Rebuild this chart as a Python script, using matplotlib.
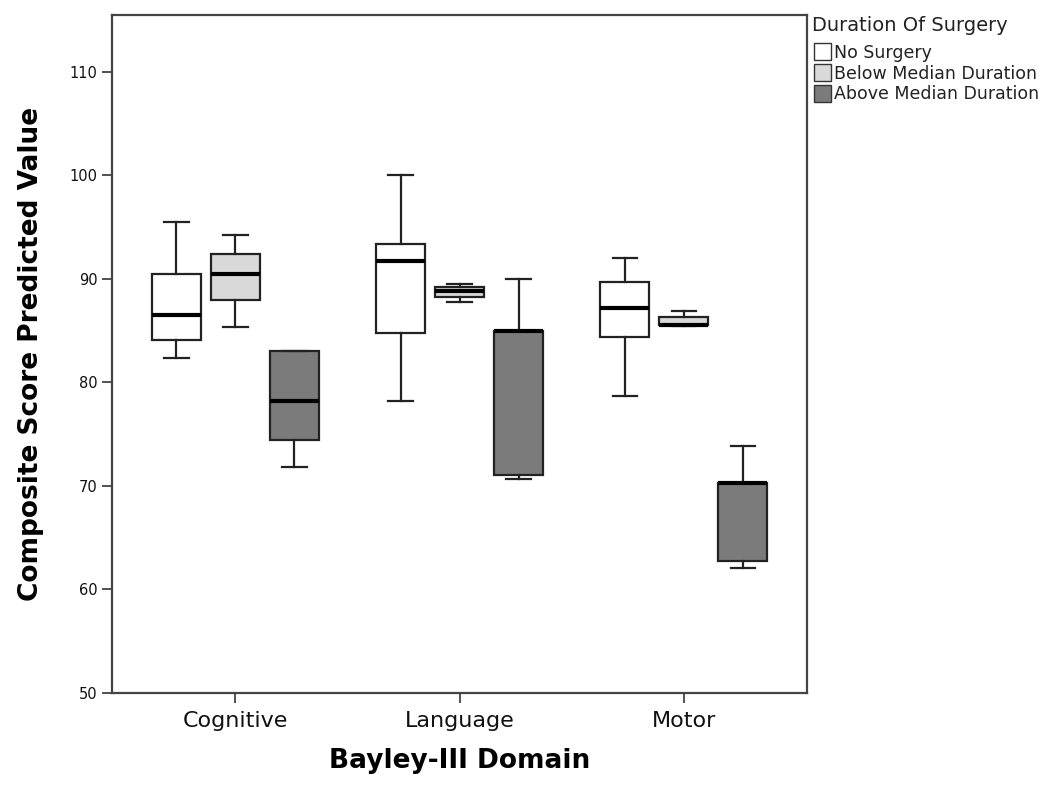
import matplotlib
matplotlib.use('Agg')
import matplotlib.pyplot as plt
from matplotlib.patches import Patch

domains = ['Cognitive', 'Language', 'Motor']
groups = ['No Surgery', 'Below Median Duration', 'Above Median Duration']
colors = ['#ffffff', '#d9d9d9', '#7b7b7b']

# one row per surgery group, one value per domain
whislo = [[82.4, 78.2, 78.7], [85.4, 87.8, 85.5], [71.8, 70.7, 62.1]]
q1 = [[84.1, 84.75, 84.4], [88.0, 88.3, 85.55], [74.4, 71.1, 62.75]]
med = [[86.5, 91.7, 87.2], [90.5, 88.8, 85.6], [78.2, 85.0, 70.25]]
q3 = [[90.5, 93.4, 89.7], [92.4, 89.2, 86.3], [83.0, 85.0, 70.25]]
whishi = [[95.5, 100.0, 92.0], [94.25, 89.5, 86.9], [83.0, 90.0, 73.9]]

yticks = [50, 60, 70, 80, 90, 100, 110]

fig = plt.figure(figsize=(10.5, 7.92), dpi=100)
ax = fig.add_axes([0.1067, 0.125, 0.662, 0.856])

offset = 0.263
for g in range(len(groups)):
  stats = []
  for d in range(len(domains)):
    stats.append(dict(whislo=whislo[g][d], q1=q1[g][d], med=med[g][d],
                      q3=q3[g][d], whishi=whishi[g][d], fliers=[]))
  pos = [d + (g - 1) * offset for d in range(len(domains))]
  ax.bxp(stats, positions=pos, widths=0.218, patch_artist=True,
         showfliers=False, manage_ticks=False,
         boxprops=dict(facecolor=colors[g], edgecolor='#222222', linewidth=1.6),
         medianprops=dict(color='black', linewidth=3),
         whiskerprops=dict(color='#222222', linewidth=1.6),
         capprops=dict(color='#222222', linewidth=1.6))

ax.set_xlim(-0.55, 2.55)
ax.set_ylim(50, 115.5)
ax.set_xticks(range(len(domains)))
ax.set_xticklabels(domains, fontsize=16, color='#111111')
ax.set_yticks(yticks)
ax.set_yticklabels([str(v) for v in yticks], fontsize=10.5, color='#111111')
ax.tick_params(axis='both', direction='out', length=7, width=1.2, color='#333333')
ax.tick_params(axis='x', pad=6)
for s in ax.spines.values():
  s.set_color('#444444')
  s.set_linewidth(1.6)

ax.set_xlabel('Bayley-III Domain', fontsize=19, fontweight='bold', labelpad=12)
ax.set_ylabel('Composite Score Predicted Value', fontsize=19, fontweight='bold', labelpad=18)

# legend: title placed on its own, entries below it
fig.text(0.773, 0.968, 'Duration Of Surgery', fontsize=14, color='#222222',
         ha='left', va='center')
handles = [Patch(facecolor=c, edgecolor='#333333', linewidth=1) for c in colors]
leg = fig.legend(handles, groups, loc='upper left',
                 bbox_to_anchor=(0.772, 0.9495), frameon=False, fontsize=12.5,
                 handlelength=1.0, handleheight=1.1,
                 handletextpad=0.15, labelspacing=0.15, borderaxespad=0.0,
                 borderpad=0.2)
for t in leg.get_texts():
  t.set_color('#222222')

plt.savefig('out.png', dpi=100)
